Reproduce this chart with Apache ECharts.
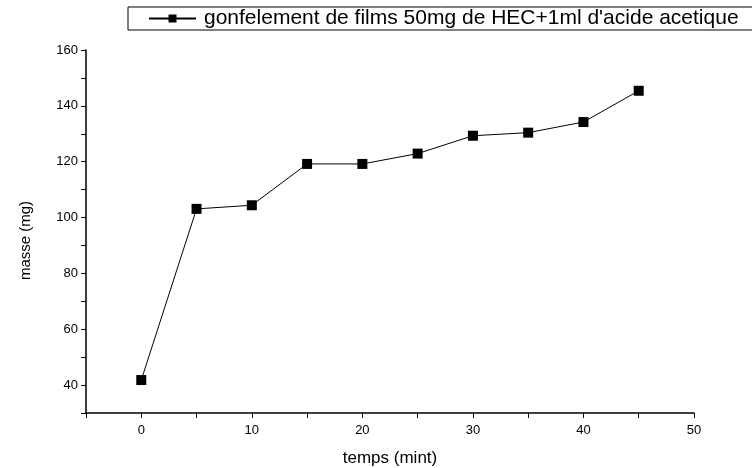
<!DOCTYPE html>
<html><head><meta charset="utf-8">
<script src="https://cdn.jsdelivr.net/npm/echarts@6/dist/echarts.min.js"></script>
<style>html,body{margin:0;padding:0;background:#fff}#c{width:752px;height:468px}</style>
</head><body><div id="c"></div>
<script>
const times = [0, 5, 10, 15, 20, 25, 30, 35, 40, 45];
const masse = [41.8, 103.1, 104.4, 119.2, 119.2, 122.9, 129.3, 130.4, 134.2, 145.4];
const seriesName = "gonfelement de films 50mg de HEC+1ml d'acide acetique";
const xTitle = 'temps (mint)';
const yTitle = 'masse (mg)';

const chart = echarts.init(document.getElementById('c'), null, {renderer: 'canvas'});
const font = 'Liberation Sans, Arial, sans-serif';
chart.setOption({
  animation: false,
  backgroundColor: '#fff',
  textStyle: {fontFamily: font},
  legend: {
    left: 128, top: 7,
    padding: [1, 20, 1, 20],
    borderColor: '#000', borderWidth: 1,
    itemWidth: 47, itemHeight: 10, itemGap: 0,
    textStyle: {fontSize: 21, color: '#000', fontFamily: font, padding: [0, 0, 0, 3]},
    data: [{name: seriesName}]
  },
  grid: {left: 86, right: 58, top: 50, bottom: 55, containLabel: false, outerBoundsMode: 'none'},
  xAxis: {
    type: 'value', min: -5, max: 50, interval: 5,
    name: xTitle, nameLocation: 'middle', nameGap: 37,
    nameTextStyle: {fontSize: 17, color: '#000', fontFamily: font},
    axisLine: {onZero: false, lineStyle: {color: '#000', width: 1.5}},
    axisTick: {show: true, inside: false, length: 5, lineStyle: {color: '#000'}},
    axisLabel: {color: '#000', fontSize: 13, margin: 11,
      formatter: v => (v % 10 === 0 ? String(v) : '')},
    splitLine: {show: false}
  },
  yAxis: {
    type: 'value', min: 30, max: 160, interval: 10,
    name: yTitle, nameLocation: 'middle', nameGap: 53, nameRotate: 90,
    nameTextStyle: {fontSize: 15, color: '#000', fontFamily: font, padding: [0, 18, 0, 0]},
    axisLine: {show: true, onZero: false, lineStyle: {color: '#000', width: 1.5}},
    axisTick: {show: true, inside: false, length: 5, lineStyle: {color: '#000'}},
    axisLabel: {color: '#000', fontSize: 13, margin: 8,
      formatter: v => (v % 20 === 0 && v >= 40 ? String(v) : '')},
    splitLine: {show: false}
  },
  series: [{
    name: seriesName,
    type: 'line',
    data: times.map((t, i) => [t, masse[i]]),
    symbol: 'rect', symbolSize: 10,
    itemStyle: {color: '#000'},
    lineStyle: {color: '#000', width: 1}
  }]
});
</script></body></html>
